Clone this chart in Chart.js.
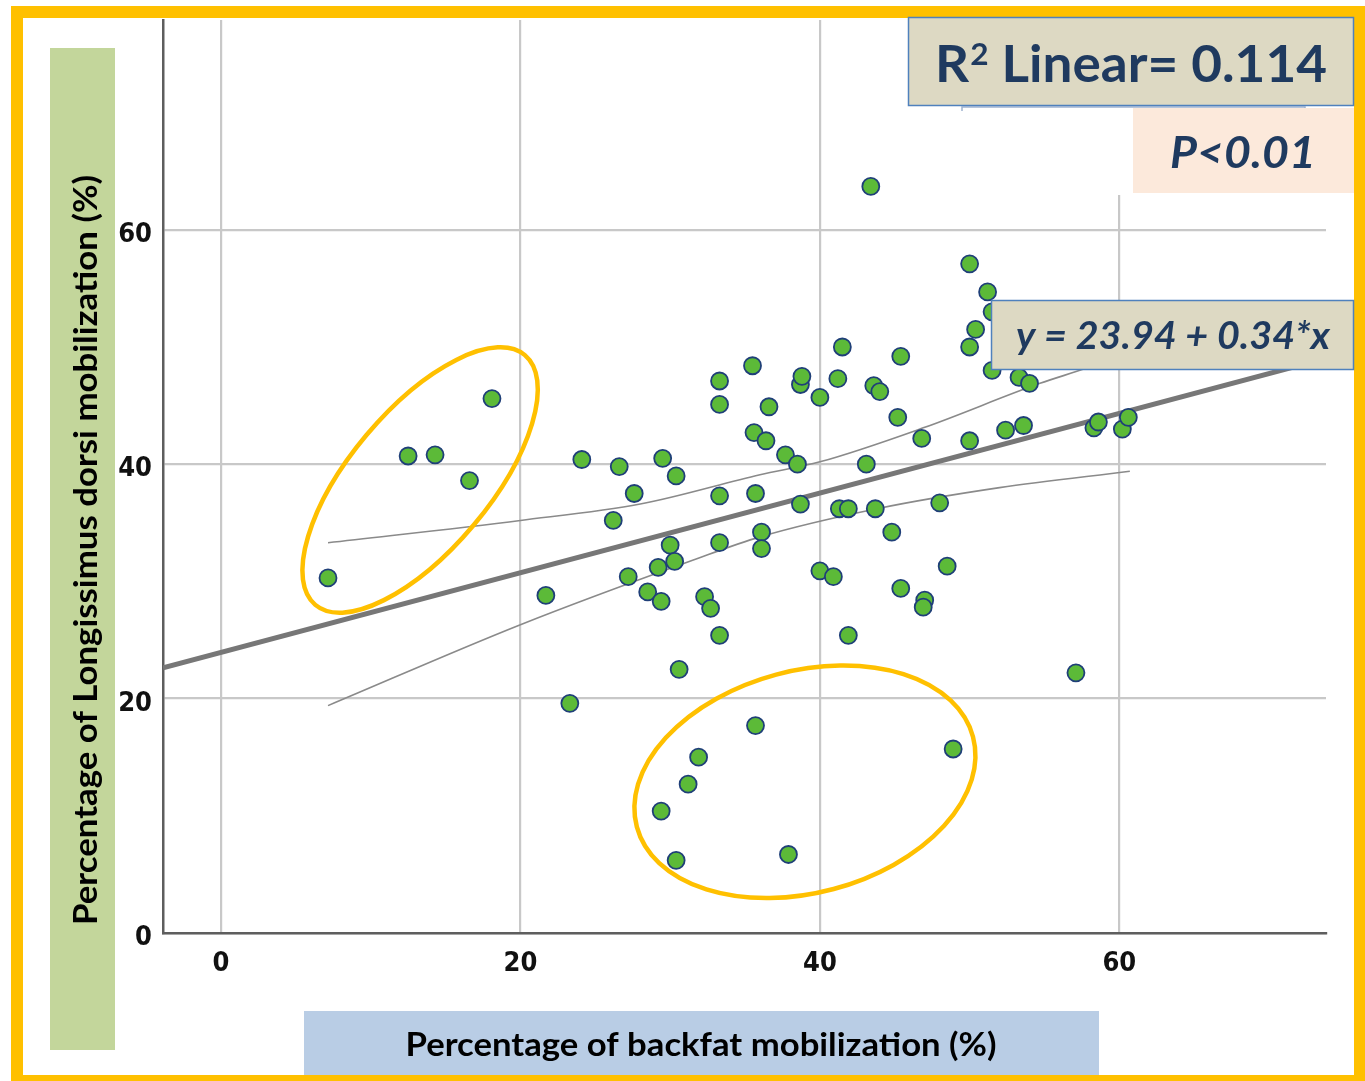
<!DOCTYPE html>
<html>
<head>
<meta charset="utf-8">
<title>Backfat vs Longissimus dorsi mobilization</title>
<script src="https://cdn.jsdelivr.net/npm/chart.js@4.4.1/dist/chart.umd.min.js"></script>
<style>
  html, body { margin: 0; padding: 0; background: #ffffff; }
  canvas { display: block; }
</style>
</head>
<body>
<canvas id="chart" width="1365" height="1081"></canvas>
<script>
// Percentage of backfat mobilization (%) for each animal
const backfatPct = [
  7.15, 12.5, 14.3, 16.6, 18.1, 21.7, 23.3, 24.1, 26.2, 26.6,
  27.6, 27.2, 28.5, 29.4, 29.2, 29.5, 30.0, 30.4, 30.3, 30.6,
  32.3, 32.7, 33.3, 33.3, 33.3, 33.3, 33.3, 35.5, 35.6, 36.4,
  36.6, 35.7, 36.1, 36.1, 37.7, 38.5, 38.7, 38.8, 38.7, 40.0,
  40.0, 40.9, 41.2, 41.5, 41.3, 41.9, 41.9, 43.1, 43.4, 43.6,
  44.0, 43.7, 44.8, 45.2, 45.4, 45.4, 46.8, 47.0, 46.9, 48.0,
  48.5, 50.0, 50.0, 50.0, 50.4, 51.2, 51.5, 51.5, 52.4, 53.3,
  53.6, 54.0, 57.1, 58.3, 58.6, 60.2, 60.6, 35.7, 31.9, 31.2,
  29.4, 30.4, 37.9, 48.9
];

// Percentage of Longissimus dorsi mobilization (%) for the same animals
const longissimusPct = [
  30.3, 40.7, 40.8, 38.6, 45.6, 28.8, 19.6, 40.4, 35.2, 39.8,
  37.5, 30.4, 29.1, 28.3, 31.2, 40.5, 33.1, 39.0, 31.7, 22.5,
  28.7, 27.7, 47.1, 45.1, 37.3, 33.3, 25.4, 48.4, 42.7, 42.0,
  44.9, 37.5, 34.2, 32.8, 40.8, 40.0, 46.8, 47.5, 36.6, 45.7,
  30.9, 30.4, 47.3, 50.0, 36.2, 36.2, 25.4, 40.0, 63.7, 46.7,
  46.2, 36.2, 34.2, 44.0, 49.2, 29.4, 42.2, 28.4, 27.8, 36.7,
  31.3, 57.1, 50.0, 42.0, 51.5, 54.7, 53.0, 48.0, 42.9, 47.4,
  43.3, 46.9, 22.2, 43.1, 43.6, 43.0, 44.0, 17.7, 15.0, 12.7,
  10.4, 6.2, 6.7, 15.7
];

// 95% confidence band of the mean around the fitted line
const upperBandX = [7.15, 20.0, 28.0, 36.0, 40.0, 46.9, 54.7, 57.8, 60.7];
const upperBandY = [33.3, 35.2, 36.6, 39.1, 40.2, 43.1, 46.9, 48.2, 49.6];
const lowerBandX = [7.15, 20.0, 31.5, 36.0, 43.8, 52.0, 60.7];
const lowerBandY = [19.4, 26.3, 31.8, 33.8, 36.2, 38.0, 39.4];

// Linear fit
const fitIntercept = 23.94;
const fitSlope = 0.34;
const rSquared = 0.114;
const pLabel = 'P<0.01';

// Axis ranges and tick labels
const xRange = [-3.87, 73.8];
const yRange = [0, 77.9];
const xTicks = [0, 20, 40, 60];
const yTicks = [0, 20, 40, 60];

const xTitle = 'Percentage of backfat mobilization (%)';
const yTitle = 'Percentage of Longissimus dorsi mobilization (%)';

const points = backfatPct.map((x, i) => ({ x: x, y: longissimusPct[i] }));
const fitLine = xRange.map(x => ({ x: x, y: fitIntercept + fitSlope * x }));
const upperBand = upperBandX.map((x, i) => ({ x: x, y: upperBandY[i] }));
const lowerBand = lowerBandX.map((x, i) => ({ x: x, y: lowerBandY[i] }));

const navy = '#1f3a5f';
const titleFont = 'Lato, "Open Sans", sans-serif';
const tickFont = '"Liberation Sans Narrow", "DejaVu Sans Condensed", "Liberation Sans", sans-serif';

// Highlight rings, centred in data units, radii in pixels
const rings = [
  { cx: 13.3, cy: 38.65, rx: 163, ry: 70, angle: -50 },
  { cx: 39.0, cy: 12.9, rx: 174, ry: 111, angle: -15 }
];

// Draw text stretched or squeezed horizontally to a given width
function fitText(ctx, text, x, y, width, font, color, rotate) {
  ctx.save();
  ctx.font = font;
  ctx.fillStyle = color;
  ctx.textAlign = 'center';
  ctx.textBaseline = 'alphabetic';
  const w = ctx.measureText(text).width;
  ctx.translate(x, y);
  if (rotate) ctx.rotate(-Math.PI / 2);
  ctx.scale(width / w, 1);
  ctx.fillText(text, 0, 0);
  ctx.restore();
}

const decorPlugin = {
  id: 'decor',
  beforeDraw(chart) {
    const ctx = chart.ctx;
    ctx.save();
    ctx.fillStyle = '#ffffff';
    ctx.fillRect(0, 0, chart.width, chart.height);
    // gold frame
    ctx.fillStyle = '#ffc000';
    ctx.fillRect(11, 6, chart.width - 11, chart.height - 6);
    ctx.fillStyle = '#ffffff';
    ctx.fillRect(23, 18, 1354 - 23, 1075 - 18);
    // axis title panels
    ctx.fillStyle = '#c3d69b';
    ctx.fillRect(50, 48, 65, 1002);
    ctx.fillStyle = '#b9cde5';
    ctx.fillRect(304, 1011, 795, 64);
    ctx.restore();

    fitText(ctx, xTitle, 701, 1056, 591, 'bold 32px ' + titleFont, '#000000', false);
    fitText(ctx, yTitle, 97, 550, 750, 'bold 32px ' + titleFont, '#000000', true);
  },
  beforeDatasetsDraw(chart) {
    const ctx = chart.ctx;
    ctx.save();
    ctx.fillStyle = '#ffffff';
    ctx.fillRect(1100, 100, 33, 95);
    ctx.restore();
  },
  afterDatasetsDraw(chart) {
    const ctx = chart.ctx;
    const xs = chart.scales.x, ys = chart.scales.y;
    ctx.save();
    ctx.strokeStyle = '#ffc000';
    ctx.lineWidth = 4.5;
    rings.forEach(r => {
      ctx.beginPath();
      ctx.ellipse(xs.getPixelForValue(r.cx), ys.getPixelForValue(r.cy), r.rx, r.ry,
        r.angle * Math.PI / 180, 0, Math.PI * 2);
      ctx.stroke();
    });

    // faint rule beneath the R² panel
    ctx.strokeStyle = '#9fb3cf';
    ctx.lineWidth = 1.5;
    ctx.beginPath();
    ctx.moveTo(962, 111); ctx.lineTo(962, 107); ctx.lineTo(1305, 107); ctx.lineTo(1305, 111);
    ctx.stroke();

    // R² panel
    ctx.fillStyle = '#ddd9c3';
    ctx.fillRect(908, 17, 446, 89);
    ctx.strokeStyle = '#4f81bd';
    ctx.lineWidth = 1.5;
    ctx.strokeRect(908.5, 17.5, 445, 88);

    // R² text with a raised 2
    const big = 'bold 52px ' + titleFont;
    const small = 'bold 31px ' + titleFont;
    const rest = ' Linear= ' + rSquared.toFixed(3);
    ctx.font = big;
    const wR = ctx.measureText('R').width;
    const wRest = ctx.measureText(rest).width;
    ctx.font = small;
    const w2 = ctx.measureText('2').width + 1;
    const total = wR + w2 + wRest;
    const k = 392 / total;
    ctx.save();
    ctx.translate(935, 82);
    ctx.scale(k, 1);
    ctx.fillStyle = navy;
    ctx.textAlign = 'left';
    ctx.textBaseline = 'alphabetic';
    ctx.font = big;
    ctx.fillText('R', 0, 0);
    ctx.font = small;
    ctx.fillText('2', wR + 1, -17);
    ctx.font = big;
    ctx.fillText(rest, wR + w2, 0);
    ctx.restore();

    // P value panel
    ctx.fillStyle = '#fce9db';
    ctx.fillRect(1133, 108, 221, 85);
    fitText(ctx, pLabel, 1243, 168, 146, 'italic bold 44px ' + titleFont, navy, false);

    // equation panel
    ctx.fillStyle = '#ddd9c3';
    ctx.fillRect(991, 300, 363, 70);
    ctx.strokeStyle = '#4f81bd';
    ctx.lineWidth = 1.5;
    ctx.strokeRect(991.5, 300.5, 362, 69);
    const eq = 'y = ' + fitIntercept.toFixed(2) + ' + ' + fitSlope.toFixed(2) + '*x';
    fitText(ctx, eq, 1173, 349, 314, 'italic bold 39px ' + titleFont, navy, false);
    ctx.restore();
  }
};

const tickOpts = (pad, shift) => ({
  padding: pad,
  labelOffset: shift,
  color: '#111111',
  font: { family: tickFont, size: 27, weight: 'bold' }
});

new Chart(document.getElementById('chart'), {
  type: 'scatter',
  data: {
    datasets: [
      {
        label: 'Animals',
        data: points,
        pointRadius: 8.5,
        pointBackgroundColor: '#5cba38',
        pointBorderColor: '#1f3f78',
        pointBorderWidth: 1.8
      },
      {
        label: 'Fit',
        data: fitLine,
        showLine: true,
        pointRadius: 0,
        borderColor: '#777777',
        borderWidth: 5
      },
      {
        label: 'Upper 95% CI',
        data: upperBand,
        showLine: true,
        pointRadius: 0,
        borderColor: '#8a8a8a',
        borderWidth: 1.6,
        cubicInterpolationMode: 'monotone'
      },
      {
        label: 'Lower 95% CI',
        data: lowerBand,
        showLine: true,
        pointRadius: 0,
        borderColor: '#8a8a8a',
        borderWidth: 1.6,
        cubicInterpolationMode: 'monotone'
      }
    ]
  },
  options: {
    responsive: false,
    animation: false,
    devicePixelRatio: 1,
    layout: { padding: { left: 0, top: 20, right: 39, bottom: 0 } },
    plugins: { legend: { display: false }, tooltip: { enabled: false } },
    scales: {
      x: {
        type: 'linear',
        min: xRange[0],
        max: xRange[1],
        afterBuildTicks: s => { s.ticks = xTicks.map(v => ({ value: v })); },
        afterFit: s => { s.height = 148; s.paddingLeft = 0; s.paddingRight = 0; },
        grid: { color: '#c8c8c8', lineWidth: 2.2, drawTicks: false },
        border: { color: '#5e5e5e', width: 2.5 },
        ticks: tickOpts(15, 0)
      },
      y: {
        type: 'linear',
        min: yRange[0],
        max: yRange[1],
        afterBuildTicks: s => { s.ticks = yTicks.map(v => ({ value: v })); },
        afterFit: s => { s.width = 163; s.paddingTop = 0; s.paddingBottom = 0; },
        grid: { color: '#c8c8c8', lineWidth: 2.2, drawTicks: false },
        border: { color: '#5e5e5e', width: 2.5 },
        ticks: tickOpts(11, 5)
      }
    }
  },
  plugins: [decorPlugin]
});
</script>
</body>
</html>
